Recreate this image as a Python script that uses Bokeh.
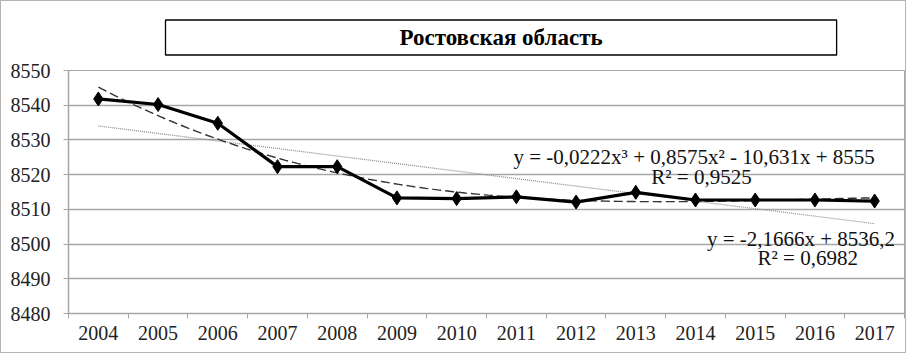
from bokeh.plotting import figure
from bokeh.models import FixedTicker, Label, Title
from bokeh.layouts import column
from bokeh.embed import file_html
from bokeh.resources import INLINE
import numpy as np

years = ["2004", "2005", "2006", "2007", "2008", "2009", "2010",
         "2011", "2012", "2013", "2014", "2015", "2016", "2017"]
values = [8541.8, 8540.2, 8534.8, 8522.3, 8522.3, 8513.3, 8513.1,
          8513.6, 8512.1, 8514.9, 8512.7, 8512.7, 8512.7, 8512.4]
y_ticks = [8480, 8490, 8500, 8510, 8520, 8530, 8540, 8550]
lin_coef = [-2.1666, 8536.2]                    # y = a*x + b
poly_coef = [-0.0222, 0.8575, -10.631, 8555]    # cubic, highest power first
title_text = "Ростовская область"
eq_poly = "y = -0,0222x³  + 0,8575x²  - 10,631x  + 8555"
r2_poly = "R² = 0,9525"
eq_lin = "y = -2,1666x  + 8536,2"
r2_lin = "R² = 0,6982"

xs = list(range(1, len(years) + 1))
SERIF = "Liberation Serif"

p = figure(width=904, height=351, output_backend="svg", toolbar_location=None, title=None,
           x_range=(0.5, len(years) + 0.5), y_range=(y_ticks[0], y_ticks[-1]),
           min_border_left=67, min_border_right=1, min_border_top=69,
           min_border_bottom=39)
p.outline_line_color = "#a6a6a6"
p.background_fill_color = "white"
p.border_fill_color = "white"

# spacer between frame and title box, then the boxed title
p.add_layout(Title(text=" ", text_font_size="2px", standoff=4), "above")
p.add_layout(Title(text=title_text, align="left", offset=97, vertical_align="top",
                   text_font=SERIF, text_font_size="23px", text_font_style="bold",
                   text_color="black", border_line_color="black", border_line_width=1.3,
                   background_fill_color="white", padding=(234, 5), standoff=11), "above")

# grid
p.xgrid.grid_line_color = None
p.ygrid.ticker = FixedTicker(ticks=y_ticks)
p.ygrid.grid_line_color = "#a6a6a6"
p.ygrid.grid_line_width = 1.5

# axes
p.yaxis.ticker = FixedTicker(ticks=y_ticks)
p.yaxis.axis_line_color = "#a6a6a6"
p.yaxis.axis_line_width = 1.5
p.yaxis.major_tick_line_color = "#a6a6a6"
p.yaxis.major_tick_out = 5
p.yaxis.major_tick_in = 0
p.yaxis.minor_tick_line_color = None
p.yaxis.major_label_standoff = 13
p.yaxis.major_label_text_font = SERIF
p.yaxis.major_label_text_font_size = "20px"
p.yaxis.major_label_text_color = "#222222"

p.xaxis.ticker = FixedTicker(ticks=xs, minor_ticks=[x - 0.5 for x in xs] + [xs[-1] + 0.5])
p.xaxis.major_label_overrides = {x: y for x, y in zip(xs, years)}
p.xaxis.axis_line_color = "#a6a6a6"
p.xaxis.axis_line_width = 1.5
p.xaxis.major_tick_line_color = None
p.xaxis.minor_tick_line_color = "#a6a6a6"
p.xaxis.minor_tick_out = 5
p.xaxis.minor_tick_in = 0
p.xaxis.major_label_standoff = 6
p.xaxis.major_label_text_font = SERIF
p.xaxis.major_label_text_font_size = "20px"
p.xaxis.major_label_text_color = "#222222"

# trend lines from the displayed equations
tx = np.linspace(1, len(years), 200)
p.line([1, len(years)], [lin_coef[0] * 1 + lin_coef[1], lin_coef[0] * len(years) + lin_coef[1]],
       line_color="#8c8c8c", line_width=1.2, line_dash="1 1")
p.line(tx, np.polyval(poly_coef, tx), line_color="#333333", line_width=1.4, line_dash="9 4")

# data
p.line(xs, values, line_color="black", line_width=3.2)
p.scatter(xs, values, marker="diamond", size=14, fill_color="black", line_color="black")

# equation labels
for txt, x, y, align in [(eq_poly, 11.11, 8525.2, "center"), (r2_poly, 11.10, 8519.2, "center"),
                         (eq_lin, 14.43, 8501.6, "right"), (r2_lin, 12.88, 8496.1, "center")]:
    p.add_layout(Label(x=x, y=y, text=txt, text_align=align, text_baseline="middle",
                       text_font=SERIF, text_font_size="21px", text_color="#111111"))

layout = column(p, styles={"border": "1px solid #b5b5b5"})
open("out.html", "w").write(file_html(layout, INLINE))
